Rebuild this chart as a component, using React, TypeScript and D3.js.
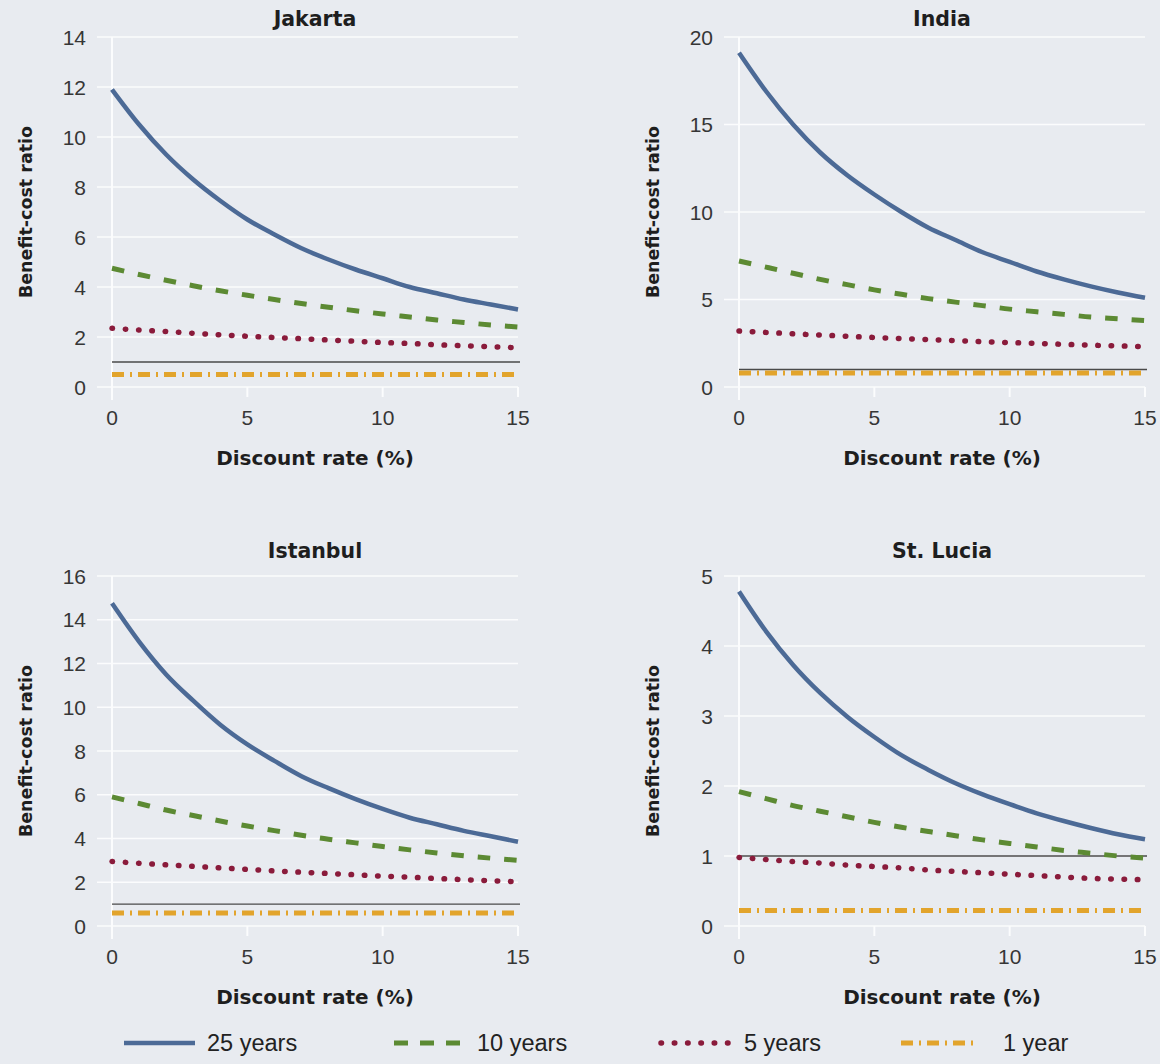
import * as d3 from "d3";

// discount rate (%) on the x axis
const discountRates = [0, 1, 2, 3, 4, 5, 6, 7, 8, 9, 10, 11, 12, 13, 14, 15];
const xTicks = [0, 5, 10, 15];
const seriesNames = ["25 years", "10 years", "5 years", "1 year"];

// benefit-cost ratios, one value per discount rate
const jakarta25 = [11.9, 10.5, 9.3, 8.3, 7.45, 6.7, 6.1, 5.55, 5.1, 4.7, 4.35, 4.0, 3.75, 3.5, 3.3, 3.1];
const jakarta10 = [4.75, 4.5, 4.27, 4.05, 3.85, 3.67, 3.5, 3.34, 3.19, 3.05, 2.92, 2.8, 2.68, 2.58, 2.48, 2.4];
const jakarta5 = [2.35, 2.28, 2.22, 2.15, 2.09, 2.03, 1.98, 1.93, 1.88, 1.83, 1.78, 1.74, 1.69, 1.65, 1.61, 1.57];
const jakarta1 = [0.5, 0.5, 0.5, 0.5, 0.5, 0.5, 0.5, 0.5, 0.5, 0.5, 0.5, 0.5, 0.5, 0.5, 0.5, 0.5];

const india25 = [19.1, 16.9, 15.0, 13.4, 12.1, 11.0, 10.0, 9.1, 8.4, 7.7, 7.15, 6.6, 6.15, 5.75, 5.4, 5.1];
const india10 = [7.2, 6.85, 6.5, 6.15, 5.85, 5.55, 5.3, 5.05, 4.85, 4.65, 4.45, 4.3, 4.15, 4.0, 3.9, 3.8];
const india5 = [3.2, 3.12, 3.04, 2.97, 2.9, 2.83, 2.77, 2.71, 2.65, 2.59, 2.54, 2.49, 2.44, 2.39, 2.35, 2.3];
const india1 = [0.8, 0.8, 0.8, 0.8, 0.8, 0.8, 0.8, 0.8, 0.8, 0.8, 0.8, 0.8, 0.8, 0.8, 0.8, 0.8];

const istanbul25 = [14.75, 13.0, 11.5, 10.3, 9.2, 8.3, 7.55, 6.85, 6.3, 5.8, 5.35, 4.95, 4.65, 4.35, 4.1, 3.85];
const istanbul10 = [5.9, 5.6, 5.3, 5.05, 4.8, 4.57, 4.36, 4.15, 3.97, 3.8, 3.63, 3.48, 3.34, 3.21, 3.1, 3.0];
const istanbul5 = [2.95, 2.87, 2.8, 2.73, 2.66, 2.59, 2.52, 2.46, 2.4, 2.34, 2.28, 2.23, 2.17, 2.12, 2.07, 2.02];
const istanbul1 = [0.6, 0.6, 0.6, 0.6, 0.6, 0.6, 0.6, 0.6, 0.6, 0.6, 0.6, 0.6, 0.6, 0.6, 0.6, 0.6];

const stLucia25 = [4.78, 4.21, 3.73, 3.33, 2.99, 2.7, 2.44, 2.23, 2.04, 1.88, 1.74, 1.61, 1.5, 1.4, 1.31, 1.24];
const stLucia10 = [1.92, 1.82, 1.72, 1.64, 1.56, 1.48, 1.41, 1.35, 1.29, 1.23, 1.18, 1.13, 1.08, 1.04, 1.0, 0.97];
const stLucia5 = [0.98, 0.95, 0.92, 0.9, 0.87, 0.85, 0.83, 0.8, 0.78, 0.76, 0.74, 0.72, 0.7, 0.68, 0.67, 0.66];
const stLucia1 = [0.22, 0.22, 0.22, 0.22, 0.22, 0.22, 0.22, 0.22, 0.22, 0.22, 0.22, 0.22, 0.22, 0.22, 0.22, 0.22];

const jakartaTicks = [0, 2, 4, 6, 8, 10, 12, 14];
const indiaTicks = [0, 5, 10, 15, 20];
const istanbulTicks = [0, 2, 4, 6, 8, 10, 12, 14, 16];
const stLuciaTicks = [0, 1, 2, 3, 4, 5];

const BG = "#e8ebf0";
const GRID = "#fbfcfd";
const LABEL_FONT = "'Liberation Sans', Arial, sans-serif";
const BOLD_FONT = "'DejaVu Sans', 'Liberation Sans', sans-serif";

const styles = [
  { color: "#4c6a96", width: 4.5, dash: undefined, cap: "butt" },
  { color: "#5c8a33", width: 5, dash: "12.5 14", cap: "butt" },
  { color: "#8a1b3b", width: 5.5, dash: "0.5 12.8", cap: "round" },
  { color: "#e2a42c", width: 5, dash: "12 6 2 6", cap: "butt" },
];

const plotW = 406;
const plotH = 350;
const colLeft = [112, 739];
const rowTop = [37, 576];
const titleY = [19, 551];

const panels = [
  { title: "Jakarta", col: 0, row: 0, yTicks: jakartaTicks, series: [jakarta25, jakarta10, jakarta5, jakarta1] },
  { title: "India", col: 1, row: 0, yTicks: indiaTicks, series: [india25, india10, india5, india1] },
  { title: "Istanbul", col: 0, row: 1, yTicks: istanbulTicks, series: [istanbul25, istanbul10, istanbul5, istanbul1] },
  { title: "St. Lucia", col: 1, row: 1, yTicks: stLuciaTicks, series: [stLucia25, stLucia10, stLucia5, stLucia1] },
];

function Panel({ title, col, row, yTicks, series }: any) {
  const left = colLeft[col];
  const top = rowTop[row];
  const x = d3.scaleLinear().domain([0, 15]).range([left, left + plotW]);
  const y = d3
    .scaleLinear()
    .domain([0, d3.max(yTicks) as number])
    .range([top + plotH, top]);
  const line = d3
    .line<number>()
    .x((_, i) => x(discountRates[i]))
    .y((d) => y(d))
    .curve(d3.curveMonotoneX);
  const base = y(0);

  return (
    <g>
      {yTicks.map((t: number) => (
        <line key={"g" + t} x1={left - 15} x2={x(15)} y1={y(t)} y2={y(t)} stroke={GRID} strokeWidth={1.5} />
      ))}
      <line x1={x(0)} x2={x(0)} y1={top} y2={base + 13} stroke={GRID} strokeWidth={2} />
      {xTicks.slice(1).map((t) => (
        <line key={"t" + t} x1={x(t)} x2={x(t)} y1={base} y2={base + 10} stroke={GRID} strokeWidth={2} />
      ))}
      {yTicks.map((t: number) => (
        <text
          key={"l" + t}
          x={left - 26}
          y={y(t)}
          dy="0.36em"
          textAnchor="end"
          fontFamily={LABEL_FONT}
          fontSize={21}
          fill="#363636"
        >
          {t}
        </text>
      ))}
      {xTicks.map((t) => (
        <text
          key={"x" + t}
          x={x(t)}
          y={base + 30}
          dy="0.36em"
          textAnchor="middle"
          fontFamily={LABEL_FONT}
          fontSize={21}
          fill="#363636"
        >
          {t}
        </text>
      ))}
      <line x1={x(0)} x2={x(15) + 2} y1={y(1)} y2={y(1)} stroke="#4a4a4a" strokeWidth={1.4} />
      {series
        .map((vals: number[], i: number) => ({ vals, i }))
        .reverse()
        .map(({ vals, i }: any) => (
          <path
            key={seriesNames[i]}
            d={line(vals) || ""}
            fill="none"
            stroke={styles[i].color}
            strokeWidth={styles[i].width}
            strokeDasharray={styles[i].dash}
            strokeLinecap={styles[i].cap as any}
          />
        ))}
      <text
        x={(x(0) + x(15)) / 2}
        y={titleY[row]}
        dy="0.36em"
        textAnchor="middle"
        fontFamily={BOLD_FONT}
        fontWeight="bold"
        fontSize={20.5}
        fill="#1e1e1e"
      >
        {title}
      </text>
      <text
        x={(x(0) + x(15)) / 2}
        y={base + 71}
        dy="0.36em"
        textAnchor="middle"
        fontFamily={BOLD_FONT}
        fontWeight="bold"
        fontSize={20}
        fill="#1e1e1e"
      >
        Discount rate (%)
      </text>
      <text
        transform={`translate(${left - 86},${top + plotH / 2}) rotate(-90)`}
        dy="0.36em"
        textAnchor="middle"
        fontFamily={BOLD_FONT}
        fontWeight="bold"
        fontSize={17.5}
        fill="#1e1e1e"
      >
        Benefit-cost ratio
      </text>
    </g>
  );
}

const legendX = [124, 394, 661, 901];
const legendLen = [71, 71, 71, 78];

function Legend() {
  const ly = 1043;
  return (
    <g>
      {seriesNames.map((name, i) => (
        <g key={name}>
          <line
            x1={legendX[i]}
            x2={legendX[i] + legendLen[i]}
            y1={ly}
            y2={ly}
            stroke={styles[i].color}
            strokeWidth={styles[i].width}
            strokeDasharray={i === 1 ? "14 12" : styles[i].dash}
            strokeLinecap={styles[i].cap as any}
          />
          <text
            x={legendX[i] + legendLen[i] + (i === 3 ? 24 : 12)}
            y={ly}
            dy="0.36em"
            fontFamily={LABEL_FONT}
            fontSize={23.5}
            fill="#222"
          >
            {name}
          </text>
        </g>
      ))}
    </g>
  );
}

export default function App() {
  return (
    <svg width={1160} height={1064} style={{ position: "absolute", left: 0, top: 0 }}>
      <rect width={1160} height={1064} fill={BG} />
      {panels.map((p) => (
        <Panel key={p.title} {...p} />
      ))}
      <Legend />
    </svg>
  );
}
